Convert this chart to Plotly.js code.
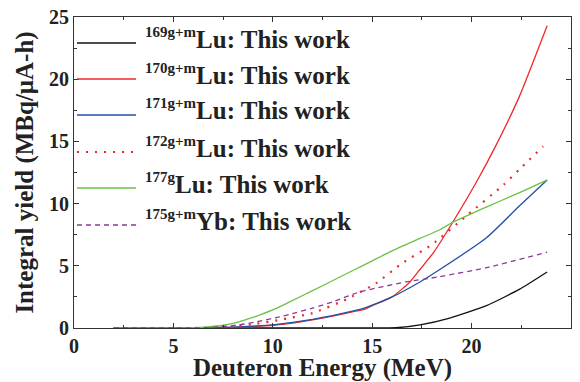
<!DOCTYPE html>
<html>
<head>
<meta charset="utf-8">
<script src="https://cdn.plot.ly/plotly-3.0.1.min.js"></script>
<style>html,body{margin:0;padding:0;background:#fff;}#chart{width:580px;height:382px;}</style>
</head>
<body>
<div id="chart"></div>
<script>
// ---- data ----
const lu169X = [2, 5, 10, 15, 16.2, 17.4, 18.9, 20.75, 22.4, 23.8];
const lu169Y = [0, 0, 0, 0, 0.02, 0.25, 0.8, 1.8, 3.1, 4.5];

const lu170X = [2, 5, 6, 7, 8, 9, 10, 11, 12, 13, 14, 14.6, 15, 16, 16.9, 17.4, 18.1, 19.05, 20.3, 21.2, 22.4, 23.8];
const lu170Y = [0, 0, 0, 0.02, 0.05, 0.12, 0.22, 0.4, 0.65, 0.95, 1.3, 1.5, 1.8, 2.5, 3.7, 4.7, 6.1, 8.5, 11.9, 14.6, 18.6, 24.3];

const lu171X = [2, 5, 6, 7, 8, 9, 10, 11, 12, 13, 14, 14.6, 16, 17.4, 18.4, 20.75, 22.4, 23.8];
const lu171Y = [0, 0, 0, 0.03, 0.07, 0.15, 0.25, 0.45, 0.7, 1.0, 1.35, 1.6, 2.5, 3.7, 4.7, 7.25, 9.8, 11.9];

const lu172X = [2, 5, 6, 7, 8, 9.2, 10.35, 12, 13.7, 15.2, 16.5, 18.0, 19.8, 21.6, 22.5, 23.6];
const lu172Y = [0, 0, 0, 0.02, 0.1, 0.35, 0.65, 1.2, 2.3, 3.6, 5.2, 6.7, 9.1, 11.5, 12.9, 14.6];

const lu177X = [2, 5, 6, 6.7, 7.5, 8.3, 9, 10, 10.85, 12, 13, 14, 15, 16, 17.4, 18.4, 19.05, 20, 21, 22, 23, 23.8];
const lu177Y = [0, 0, 0.02, 0.08, 0.22, 0.5, 0.85, 1.45, 2.1, 3.0, 3.8, 4.6, 5.4, 6.2, 7.2, 7.9, 8.5, 9.2, 9.9, 10.6, 11.3, 11.9];

const yb175X = [2, 5, 6, 7, 8.3, 9.2, 10.35, 10.85, 12, 13, 14.37, 16.7, 18.3, 20.75, 23.8];
const yb175Y = [0, 0, 0, 0.05, 0.25, 0.5, 0.9, 1.1, 1.6, 2.1, 2.9, 3.7, 4.1, 4.85, 6.1];

const legendSups = ['169g+m', '170g+m', '171g+m', '172g+m', '177g', '175g+m'];
const legendMain = ['Lu: This work', 'Lu: This work', 'Lu: This work', 'Lu: This work', 'Lu: This work', 'Yb: This work'];
const xTickVals = [0, 5, 10, 15, 20, 25];
const yTickVals = [0, 5, 10, 15, 20, 25];

// ---- styles ----
const styles = [
  {color: '#111111', width: 1.3, dash: 'solid'},
  {color: '#f0282a', width: 1.3, dash: 'solid'},
  {color: '#2251a8', width: 1.3, dash: 'solid'},
  {color: '#f0282a', width: 2.2, dash: '2px,7px'},
  {color: '#6cc043', width: 1.3, dash: 'solid'},
  {color: '#8d3a9c', width: 1.3, dash: '5px,4px'}
];
const series = [[lu169X, lu169Y], [lu170X, lu170Y], [lu171X, lu171Y], [lu172X, lu172Y], [lu177X, lu177Y], [yb175X, yb175Y]];

const traces = series.map((s, i) => ({
  x: s[0], y: s[1], type: 'scatter', mode: 'lines',
  line: {color: styles[i].color, width: styles[i].width, dash: styles[i].dash, shape: 'spline', smoothing: 0.5},
  name: legendSups[i] + ' ' + legendMain[i], showlegend: false, hoverinfo: 'skip'
}));

const font = 'Liberation Serif';
const W = 580, H = 382, ML = 74, MR = 9, MT = 17, MB = 54;
const pw = W - ML - MR, ph = H - MT - MB;
const rowsPx = [43, 79, 115, 152, 188, 225];
const shapes = [], annotations = [];
rowsPx.forEach((py, i) => {
  const yp = (H - MB - py) / ph;
  shapes.push({type: 'line', xref: 'paper', yref: 'paper',
    x0: 3 / pw, x1: 62 / pw, y0: yp, y1: yp,
    line: {color: styles[i].color, width: i === 3 ? 2.2 : 1.3, dash: styles[i].dash}});
  annotations.push({xref: 'paper', yref: 'paper', x: 69 / pw, y: yp, xanchor: 'left', yanchor: 'middle',
    text: '<b><sup><span style="font-size:15px">' + legendSups[i] + '</span></sup>' + legendMain[i] + '</b>',
    showarrow: false, font: {family: font, size: 25, color: '#222'}, yshift: 5});
});

const axisCommon = {
  showgrid: false, zeroline: false, showline: true, linecolor: '#333', linewidth: 1,
  mirror: 'ticks', ticks: 'inside', ticklen: 5, tickwidth: 1, tickcolor: '#333',
  tickfont: {family: font, size: 20, color: '#222'},
  minor: {ticks: 'inside', ticklen: 3, tickwidth: 1, tickcolor: '#333', dtick: 2.5}
};

const layout = {
  width: W, height: H,
  margin: {l: ML, r: MR, t: MT, b: MB},
  paper_bgcolor: '#fff', plot_bgcolor: '#fff',
  font: {family: font},
  showlegend: false,
  xaxis: Object.assign({}, axisCommon, {
    range: [0, 25], tickvals: xTickVals, ticktext: xTickVals.map(v => '<b>' + v + '</b>'),
    title: {text: '<b>Deuteron Energy (MeV)</b>', font: {family: font, size: 25, color: '#222'}, standoff: 7}
  }),
  yaxis: Object.assign({}, axisCommon, {
    range: [0, 25], tickvals: yTickVals, ticktext: yTickVals.map(v => '<b>' + v + '</b>'),
    title: {text: '<b>Integral yield (MBq/μA-h)</b>', font: {family: font, size: 25, color: '#222'}, standoff: 8}
  }),
  shapes: shapes,
  annotations: annotations
};

Plotly.newPlot('chart', traces, layout, {displayModeBar: false, staticPlot: true});
</script>
</body>
</html>
